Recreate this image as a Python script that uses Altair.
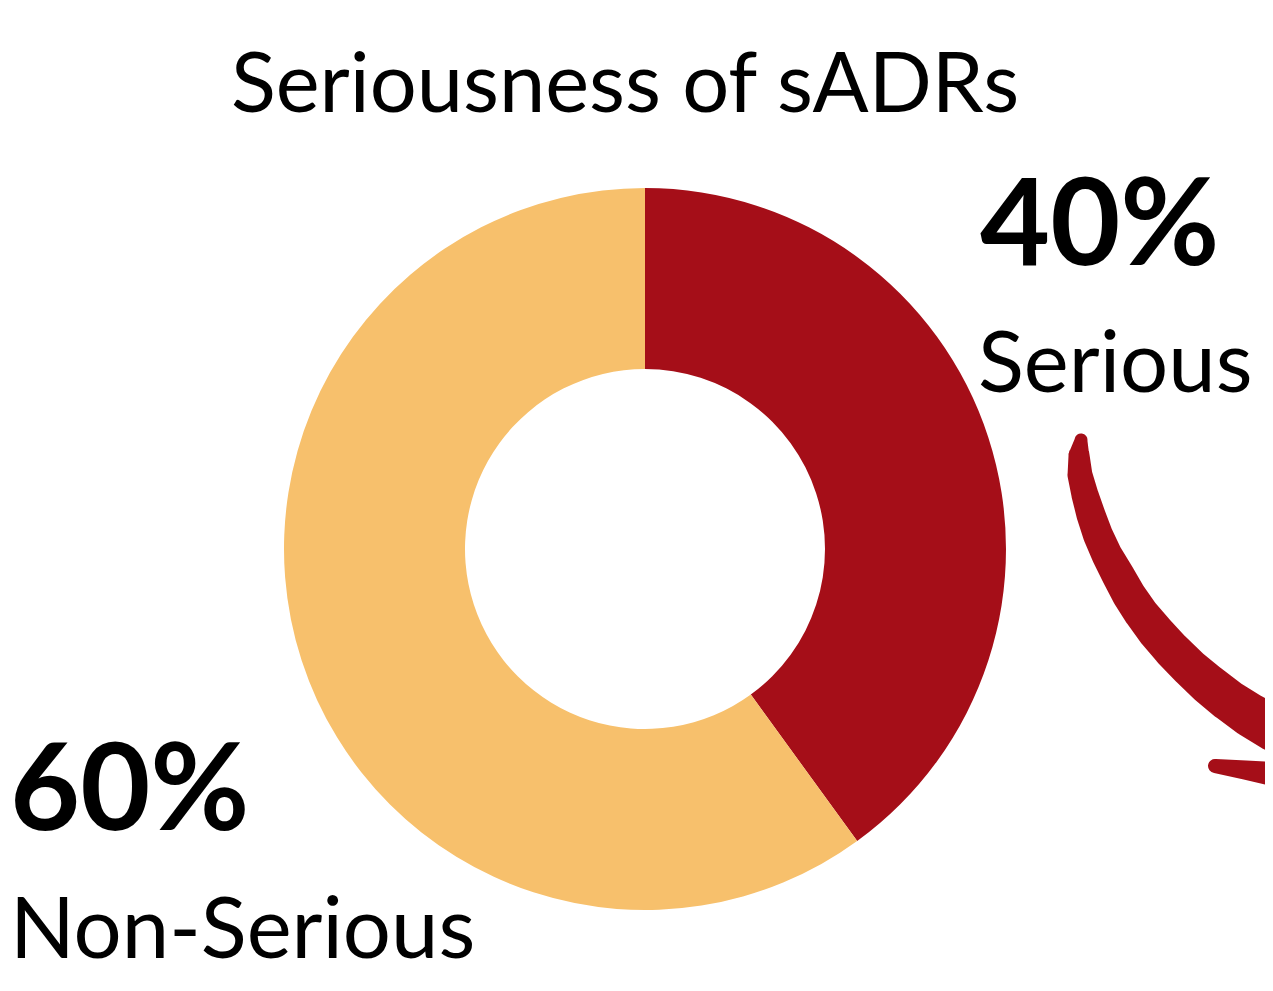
import altair as alt
import pandas as pd

# ---- chart data ----
categories = ["Serious", "Non-Serious"]
shares = [40, 60]
slice_colors = ["#A50E18", "#F7C06C"]
title_text = "Seriousness of sADRs"

# ---- decorative curved arrow (path, page pixels) ----
arrow_x = [1081, 1079, 1080, 1085, 1091, 1098, 1107, 1118, 1129, 1141, 1156,
           1172, 1190, 1208, 1228, 1250, 1273, 1300]
arrow_y = [440, 455, 475, 495, 515, 535, 555, 575, 595, 613, 632,
           650, 668, 684, 700, 715, 728, 742]
arrow_w = [13, 21, 25, 27, 29, 30, 31, 33, 34, 35, 37,
           38, 39, 41, 42, 44, 46, 48]
head_x = [1215, 1245, 1273, 1300]
head_y = [766, 770, 774, 778]
head_w = [14, 19, 24, 26]

FONT = "Lato"
W, H = 1257, 975
OX, OY = 8, 8  # page margin

donut_df = pd.DataFrame({"category": categories, "share": shares,
                         "order": list(range(len(categories)))})

donut = alt.Chart(donut_df).mark_arc(radius=361, radius2=180).encode(
    theta=alt.Theta("share:Q", stack=True),
    order=alt.Order("order:Q"),
    color=alt.Color("category:N", scale=alt.Scale(domain=categories, range=slice_colors), legend=None),
    x=alt.value(645 - OX),
    y=alt.value(549 - OY),
)

arrow_df = pd.concat([
    pd.DataFrame({"part": "curve", "i": range(len(arrow_x)), "px": arrow_x, "py": arrow_y, "w": arrow_w}),
    pd.DataFrame({"part": "head", "i": range(len(head_x)), "px": head_x, "py": head_y, "w": head_w}),
])

arrow = alt.Chart(arrow_df).mark_trail(color=slice_colors[0], clip=True).encode(
    x=alt.X("px:Q", scale=alt.Scale(domain=[OX, OX + W], nice=False, zero=False), axis=None),
    y=alt.Y("py:Q", scale=alt.Scale(domain=[OY, OY + H], nice=False, zero=False, reverse=True), axis=None),
    size=alt.Size("w:Q", scale=None, legend=None),
    detail="part:N",
    order="i:Q",
)


def label(text, x, y, size, weight, align):
    return alt.Chart(pd.DataFrame({"t": [text]})).mark_text(
        align=align, baseline="alphabetic", fontSize=size, fontWeight=weight,
        font=FONT, color="#000000"
    ).encode(text="t:N", x=alt.value(x - OX), y=alt.value(y - OY))


layers = [
    donut,
    arrow,
    label(title_text, 625, 112, 83, "normal", "center"),
    label(f"{shares[0]}%", 980, 265, 121, "bold", "left"),
    label(categories[0], 978, 392, 85, "normal", "left"),
    label(f"{shares[1]}%", 10, 830, 121, "bold", "left"),
    label(categories[1], 10, 958, 85, "normal", "left"),
]

chart = alt.layer(*layers).properties(
    width=W, height=H, padding=0, autosize=alt.AutoSizeParams(type="none")
).configure_view(strokeWidth=0)

chart.save("out.html", embed_options={"renderer": "svg", "actions": False})
